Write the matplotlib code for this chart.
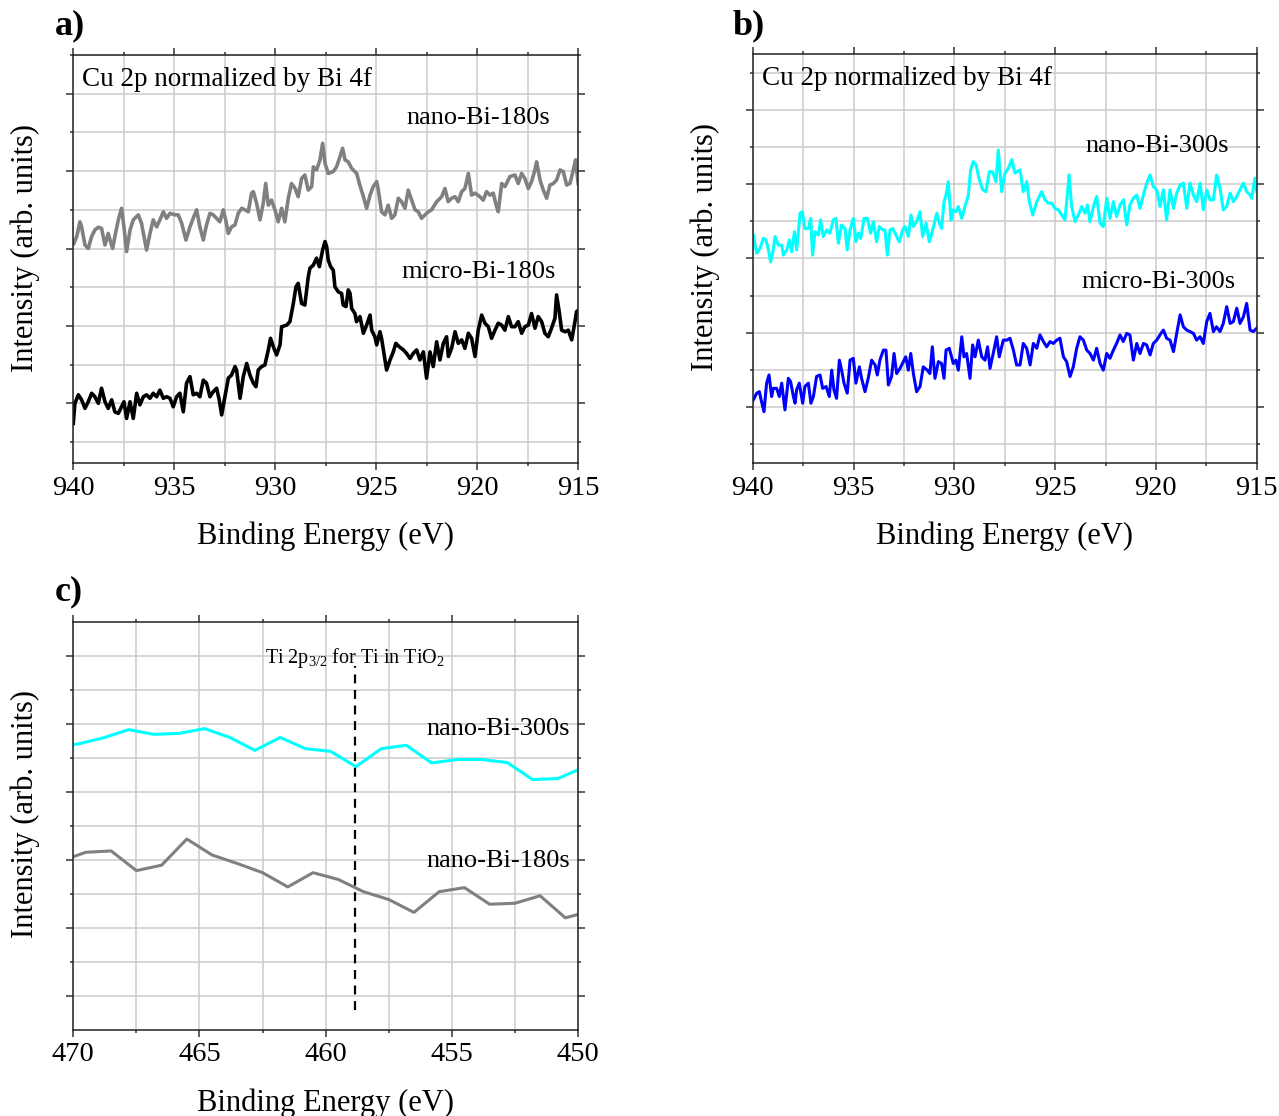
import matplotlib
matplotlib.use('Agg')
import matplotlib.pyplot as plt
from matplotlib.ticker import MultipleLocator, FixedLocator
import numpy as np

plt.rcParams['font.family'] = 'Liberation Serif'
plt.rcParams['mathtext.fontset'] = 'custom'
plt.rcParams['mathtext.rm'] = 'Liberation Serif'
plt.rcParams['mathtext.default'] = 'regular'

# ---- a) Cu 2p, 180 s samples (binding energy eV, intensity arb.) ----
nano180 = [
    (939.97, 6.13), (939.83, 6.31), (939.67, 6.69), (939.59, 6.56), (939.42, 6.09), (939.26, 6.00),
    (939.09, 6.31), (938.93, 6.48), (938.76, 6.55), (938.60, 6.52), (938.43, 6.09), (938.27, 6.39),
    (938.18, 6.22), (938.05, 6.00), (937.94, 6.31), (937.77, 6.74), (937.61, 7.04), (937.49, 6.56),
    (937.36, 5.92), (937.19, 6.48), (937.03, 6.74), (936.78, 6.87), (936.62, 6.65), (936.37, 5.96),
    (936.20, 6.39), (936.04, 6.74), (935.87, 6.56), (935.71, 6.74), (935.54, 6.95), (935.38, 6.78),
    (935.21, 6.91), (934.96, 6.87), (934.80, 6.87), (934.63, 6.65), (934.42, 6.22), (934.22, 6.56),
    (934.06, 6.78), (933.89, 7.00), (933.73, 6.56), (933.56, 6.22), (933.40, 6.61), (933.23, 6.91),
    (933.07, 6.87), (932.90, 6.78), (932.74, 6.69), (932.57, 7.00), (932.45, 6.74), (932.32, 6.39),
    (932.16, 6.56), (931.99, 6.61), (931.83, 6.91), (931.66, 7.04), (931.50, 7.00), (931.33, 6.95),
    (931.17, 7.43), (931.08, 7.47), (930.92, 7.17), (930.75, 6.74), (930.59, 7.17), (930.47, 7.68),
    (930.34, 7.12), (930.18, 7.25), (930.01, 7.00), (929.85, 6.69), (929.68, 7.04), (929.52, 6.69),
    (929.35, 7.30), (929.19, 7.68), (929.02, 7.56), (928.86, 7.34), (928.69, 7.81), (928.53, 7.90),
    (928.36, 7.51), (928.19, 7.60), (928.11, 8.11), (927.95, 8.03), (927.78, 8.29), (927.65, 8.72),
    (927.53, 8.20), (927.37, 7.94), (927.12, 7.99), (926.96, 8.11), (926.79, 8.37), (926.66, 8.59),
    (926.54, 8.29), (926.38, 8.24), (926.21, 8.07), (925.96, 7.94), (925.83, 7.68), (925.63, 7.34),
    (925.47, 7.04), (925.30, 7.38), (925.14, 7.60), (924.97, 7.73), (924.89, 7.51), (924.73, 6.95),
    (924.56, 6.87), (924.40, 7.12), (924.23, 6.78), (924.07, 6.87), (923.90, 7.30), (923.74, 7.21),
    (923.57, 7.04), (923.41, 7.51), (923.24, 7.25), (923.07, 7.00), (922.91, 6.95), (922.75, 6.78),
    (922.58, 6.87), (922.41, 6.95), (922.25, 7.00), (922.00, 7.21), (921.75, 7.34), (921.59, 7.55),
    (921.43, 7.21), (921.26, 7.30), (921.09, 7.34), (920.93, 7.21), (920.76, 7.47), (920.60, 7.55),
    (920.43, 7.94), (920.27, 7.38), (920.10, 7.43), (919.86, 7.34), (919.69, 7.25), (919.53, 7.47),
    (919.36, 7.38), (919.20, 7.43), (919.03, 7.08), (918.95, 6.95), (918.78, 7.68), (918.62, 7.60),
    (918.37, 7.86), (918.12, 7.90), (917.96, 7.68), (917.79, 7.94), (917.63, 7.81), (917.46, 7.55),
    (917.30, 7.73), (917.13, 8.03), (917.05, 8.24), (916.88, 7.77), (916.72, 7.51), (916.55, 7.30),
    (916.39, 7.64), (916.22, 7.68), (916.06, 7.77), (915.89, 8.03), (915.73, 7.99), (915.56, 7.64),
    (915.40, 7.68), (915.23, 8.03), (915.12, 8.29), (914.99, 7.68),
]

micro180 = [
    (940.00, 1.48), (939.92, 2.00), (939.75, 2.22), (939.59, 2.09), (939.42, 1.87), (939.26, 2.04),
    (939.09, 2.26), (938.93, 2.17), (938.76, 2.00), (938.60, 2.39), (938.43, 2.04), (938.27, 1.87),
    (938.10, 2.09), (937.94, 1.78), (937.77, 1.74), (937.61, 1.91), (937.49, 2.04), (937.36, 1.61),
    (937.19, 2.04), (937.03, 1.61), (936.86, 2.26), (936.70, 1.96), (936.53, 2.17), (936.37, 2.22),
    (936.20, 2.13), (936.04, 2.26), (935.87, 2.17), (935.71, 2.34), (935.54, 2.13), (935.38, 2.17),
    (935.21, 2.13), (935.05, 1.91), (934.88, 2.17), (934.72, 2.26), (934.55, 1.78), (934.39, 2.52),
    (934.22, 2.69), (934.06, 2.22), (933.89, 2.26), (933.73, 2.17), (933.56, 2.60), (933.40, 2.52),
    (933.23, 2.17), (933.07, 2.30), (932.90, 2.39), (932.77, 2.09), (932.65, 1.70), (932.49, 2.17),
    (932.32, 2.65), (932.16, 2.73), (931.99, 2.95), (931.91, 2.86), (931.74, 2.13), (931.58, 2.69),
    (931.41, 3.03), (931.25, 2.73), (931.08, 2.52), (930.95, 2.43), (930.84, 2.86), (930.67, 2.95),
    (930.51, 2.99), (930.34, 3.38), (930.23, 3.68), (930.09, 3.46), (929.93, 3.25), (929.76, 3.51),
    (929.68, 3.98), (929.43, 4.02), (929.27, 4.11), (929.10, 4.58), (928.97, 5.01), (928.86, 5.10),
    (928.69, 4.58), (928.53, 4.54), (928.36, 5.27), (928.28, 5.49), (928.11, 5.57), (927.95, 5.75),
    (927.81, 5.53), (927.65, 5.96), (927.53, 6.18), (927.45, 6.05), (927.37, 5.70), (927.25, 5.53),
    (927.12, 5.44), (927.04, 5.01), (926.87, 4.88), (926.71, 4.84), (926.63, 4.54), (926.49, 4.50),
    (926.38, 4.93), (926.29, 4.84), (926.21, 4.45), (926.05, 4.32), (925.97, 4.11), (925.80, 4.24),
    (925.63, 3.81), (925.47, 4.02), (925.30, 4.28), (925.22, 3.89), (925.06, 3.72), (924.97, 3.51),
    (924.81, 3.85), (924.73, 3.68), (924.61, 3.29), (924.48, 2.86), (924.31, 3.12), (924.15, 3.33),
    (924.02, 3.55), (923.85, 3.46), (923.65, 3.38), (923.49, 3.29), (923.32, 3.16), (923.16, 3.29),
    (922.99, 3.38), (922.83, 3.12), (922.66, 3.33), (922.50, 2.65), (922.33, 3.33), (922.17, 2.95),
    (922.00, 3.59), (921.84, 3.12), (921.67, 3.55), (921.51, 3.72), (921.42, 3.21), (921.26, 3.42),
    (921.09, 3.85), (920.93, 3.55), (920.76, 3.64), (920.60, 3.42), (920.43, 3.81), (920.27, 3.68),
    (920.10, 3.21), (919.94, 3.89), (919.77, 4.28), (919.61, 4.07), (919.44, 3.98), (919.28, 3.68),
    (919.11, 3.89), (918.95, 4.07), (918.78, 4.02), (918.62, 3.89), (918.45, 4.24), (918.29, 3.98),
    (918.12, 3.98), (917.96, 4.11), (917.79, 3.81), (917.63, 3.98), (917.46, 4.02), (917.30, 4.32),
    (917.13, 3.94), (916.97, 4.24), (916.80, 4.11), (916.64, 3.81), (916.47, 3.72), (916.31, 3.94),
    (916.14, 4.20), (916.06, 4.80), (915.93, 4.37), (915.81, 3.89), (915.64, 3.85), (915.48, 3.89),
    (915.31, 3.64), (915.15, 4.11), (915.07, 4.37), (914.97, 4.41),
]

# ---- b) Cu 2p, 300 s samples ----
nano300 = [
    (939.97, 6.63), (939.80, 6.14), (939.64, 6.27), (939.47, 6.54), (939.34, 6.50), (939.22, 6.23),
    (939.11, 5.91), (938.98, 6.23), (938.89, 6.59), (938.73, 6.36), (938.56, 6.36), (938.48, 6.09),
    (938.31, 6.23), (938.18, 6.50), (938.07, 6.18), (937.93, 6.72), (937.82, 6.23), (937.65, 7.22),
    (937.54, 7.26), (937.41, 6.81), (937.24, 6.81), (937.12, 7.08), (937.03, 6.09), (936.91, 6.72),
    (936.74, 6.63), (936.63, 7.04), (936.50, 6.59), (936.33, 6.77), (936.17, 6.68), (936.00, 7.04),
    (935.87, 7.08), (935.75, 6.41), (935.59, 6.90), (935.42, 6.81), (935.31, 6.23), (935.17, 6.77),
    (935.01, 7.08), (934.88, 6.45), (934.76, 6.68), (934.64, 6.54), (934.48, 7.08), (934.31, 7.08),
    (934.15, 6.68), (934.02, 6.99), (933.85, 6.45), (933.72, 6.86), (933.55, 6.77), (933.44, 6.77),
    (933.32, 6.09), (933.19, 6.77), (933.06, 6.81), (932.89, 6.63), (932.73, 6.45), (932.56, 6.77),
    (932.45, 6.86), (932.28, 6.59), (932.15, 7.17), (932.03, 6.86), (931.87, 6.99), (931.70, 7.26),
    (931.57, 6.59), (931.40, 6.95), (931.24, 6.45), (931.07, 6.77), (930.87, 7.22), (930.74, 6.95),
    (930.63, 6.81), (930.51, 7.53), (930.41, 7.71), (930.30, 8.07), (930.16, 7.04), (930.05, 7.31),
    (929.92, 7.26), (929.80, 7.40), (929.63, 7.08), (929.47, 7.40), (929.30, 7.71), (929.19, 8.39),
    (929.06, 8.61), (928.92, 8.52), (928.76, 8.12), (928.59, 7.85), (928.43, 7.80), (928.26, 8.34),
    (928.10, 8.34), (927.93, 8.07), (927.82, 8.92), (927.65, 7.80), (927.49, 8.30), (927.32, 8.43),
    (927.15, 8.66), (926.99, 8.30), (926.74, 8.39), (926.58, 7.80), (926.41, 8.07), (926.28, 7.53),
    (926.11, 7.17), (925.91, 7.53), (925.67, 7.80), (925.50, 7.58), (925.34, 7.49), (925.17, 7.49),
    (925.01, 7.35), (924.84, 7.31), (924.67, 7.17), (924.51, 7.04), (924.31, 8.25), (924.18, 7.40),
    (924.01, 6.99), (923.85, 7.17), (923.68, 7.40), (923.52, 7.22), (923.40, 7.44), (923.27, 6.99),
    (923.10, 7.40), (922.94, 7.67), (922.77, 6.95), (922.61, 6.86), (922.44, 7.62), (922.28, 7.08),
    (922.11, 7.53), (921.95, 7.13), (921.78, 7.44), (921.61, 7.58), (921.45, 6.90), (921.29, 7.44),
    (921.12, 7.62), (920.95, 7.71), (920.79, 7.35), (920.62, 7.71), (920.46, 8.03), (920.29, 8.25),
    (920.13, 7.94), (919.96, 7.85), (919.80, 7.40), (919.63, 7.85), (919.47, 7.04), (919.30, 7.85),
    (919.13, 7.35), (918.97, 7.76), (918.80, 7.98), (918.64, 8.03), (918.47, 7.35), (918.31, 8.03),
    (918.14, 7.71), (917.98, 7.53), (917.81, 8.03), (917.65, 7.31), (917.48, 7.85), (917.32, 7.58),
    (917.15, 7.58), (916.99, 8.25), (916.82, 7.89), (916.66, 7.31), (916.49, 7.40), (916.32, 7.76),
    (916.16, 7.53), (915.99, 7.67), (915.83, 7.85), (915.66, 8.03), (915.50, 7.80), (915.33, 7.71),
    (915.25, 7.62), (915.09, 8.16), (915.00, 7.80),
]

micro300 = [
    (939.97, 2.19), (939.80, 2.37), (939.67, 2.41), (939.56, 2.14), (939.44, 1.87), (939.31, 2.64),
    (939.19, 2.86), (939.06, 2.28), (938.98, 2.50), (938.81, 2.50), (938.68, 2.28), (938.56, 2.64),
    (938.40, 1.92), (938.23, 2.77), (938.12, 2.68), (937.98, 2.28), (937.90, 2.10), (937.82, 2.46),
    (937.69, 2.64), (937.52, 2.10), (937.41, 2.55), (937.24, 2.64), (937.11, 2.10), (936.99, 2.28),
    (936.83, 2.82), (936.66, 2.86), (936.53, 2.50), (936.36, 2.55), (936.20, 2.28), (936.08, 2.99),
    (935.97, 2.46), (935.84, 2.23), (935.70, 3.26), (935.59, 2.99), (935.47, 2.64), (935.31, 2.37),
    (935.17, 3.26), (935.01, 3.31), (934.88, 2.64), (934.71, 3.08), (934.60, 2.77), (934.43, 2.41),
    (934.27, 2.77), (934.10, 3.26), (933.93, 3.13), (933.82, 2.86), (933.69, 3.26), (933.52, 3.53),
    (933.39, 3.53), (933.27, 2.59), (933.11, 2.82), (932.99, 3.44), (932.86, 2.90), (932.69, 3.04),
    (932.53, 3.22), (932.41, 3.35), (932.28, 2.99), (932.16, 3.44), (932.03, 2.90), (931.87, 2.41),
    (931.70, 2.55), (931.54, 3.08), (931.34, 2.99), (931.21, 2.90), (931.09, 3.62), (930.96, 2.77),
    (930.79, 3.22), (930.63, 3.17), (930.51, 2.77), (930.41, 3.53), (930.25, 3.58), (930.05, 3.17),
    (929.92, 3.26), (929.80, 2.99), (929.63, 3.89), (929.52, 3.35), (929.39, 3.44), (929.22, 2.77),
    (929.09, 3.67), (928.97, 3.35), (928.81, 3.80), (928.64, 3.35), (928.48, 3.26), (928.35, 3.62),
    (928.23, 3.04), (928.07, 3.44), (927.90, 3.89), (927.77, 3.35), (927.57, 3.80), (927.40, 3.80),
    (927.24, 3.85), (927.07, 3.53), (926.91, 3.13), (926.74, 3.13), (926.58, 3.71), (926.41, 3.58),
    (926.24, 3.13), (926.08, 3.71), (925.91, 3.58), (925.75, 3.94), (925.58, 3.76), (925.42, 3.62),
    (925.25, 3.76), (925.09, 3.71), (924.92, 3.80), (924.76, 3.85), (924.59, 3.35), (924.43, 3.22),
    (924.26, 2.82), (924.10, 3.08), (923.93, 3.58), (923.77, 3.89), (923.60, 3.80), (923.43, 3.53),
    (923.27, 3.44), (923.10, 3.26), (922.94, 3.58), (922.77, 3.17), (922.61, 2.99), (922.44, 3.44),
    (922.28, 3.31), (922.11, 3.53), (921.95, 3.71), (921.78, 3.94), (921.62, 3.76), (921.45, 3.98),
    (921.29, 3.94), (921.12, 3.26), (920.95, 3.71), (920.79, 3.44), (920.62, 3.71), (920.46, 3.67),
    (920.29, 3.40), (920.13, 3.71), (919.96, 3.80), (919.80, 3.94), (919.63, 4.07), (919.47, 3.85),
    (919.30, 3.80), (919.13, 3.49), (918.97, 3.98), (918.80, 4.48), (918.64, 4.16), (918.47, 4.07),
    (918.31, 4.03), (918.14, 3.98), (917.98, 3.80), (917.81, 3.89), (917.65, 3.71), (917.48, 4.30),
    (917.32, 4.52), (917.15, 4.03), (917.00, 4.16), (916.82, 4.03), (916.66, 4.25), (916.49, 4.70),
    (916.32, 4.25), (916.16, 4.30), (915.99, 4.66), (915.83, 4.25), (915.66, 4.43), (915.50, 4.79),
    (915.33, 4.07), (915.17, 4.03), (915.00, 4.12),
]

# ---- c) Ti 2p region ----
ti300_e = [470.8, 469.8, 468.8, 467.8, 466.8, 465.8, 464.8, 463.8, 462.8, 461.8, 460.8,
           459.8, 458.8, 457.8, 456.8, 455.8, 454.8, 453.8, 452.8, 451.8, 450.8, 449.8]
ti300_i = [8.30, 8.42, 8.60, 8.84, 8.70, 8.73, 8.87, 8.61, 8.23, 8.61, 8.28,
           8.20, 7.75, 8.28, 8.38, 7.86, 7.96, 7.96, 7.87, 7.37, 7.40, 7.72]
ti180_e = [470.5, 469.5, 468.5, 467.5, 466.5, 465.5, 464.5, 463.5, 462.5, 461.5, 460.5,
           459.5, 458.5, 457.5, 456.5, 455.5, 454.5, 453.5, 452.5, 451.5, 450.5, 449.5]
ti180_i = [4.97, 5.23, 5.27, 4.69, 4.85, 5.62, 5.15, 4.90, 4.63, 4.21, 4.63,
           4.43, 4.07, 3.84, 3.46, 4.07, 4.19, 3.70, 3.73, 3.95, 3.30, 3.50]
ti_ref = 458.85  # Ti 2p3/2 for Ti in TiO2

GRAY = '#808080'
CYAN = '#00ffff'
BLUE = '#0000ff'


def style(ax, xlim, ylim, ymajor, yminor, ylab_x, ylab_y):
    ax.set_xlim(*xlim)
    ax.set_ylim(*ylim)
    ax.xaxis.set_major_locator(MultipleLocator(5))
    ax.xaxis.set_minor_locator(MultipleLocator(2.5))
    ax.yaxis.set_major_locator(FixedLocator(ymajor))
    ax.yaxis.set_minor_locator(FixedLocator(yminor))
    ax.grid(True, which='both', color='#cccccc', lw=1.1)
    ax.set_axisbelow(True)
    ax.tick_params(which='both', direction='out', top=True, right=True,
                   labelleft=False, labelsize=20.5, width=1.1, color='#333333', pad=4)
    ax.tick_params(which='major', length=5)
    ax.tick_params(which='minor', length=2.5)
    for s in ax.spines.values():
        s.set_linewidth(1.1)
        s.set_color('#222222')
    ax.set_xlabel('Binding Energy (eV)', fontsize=22, labelpad=15)
    ax.set_ylabel('Intensity (arb. units)', fontsize=22)
    ax.yaxis.set_label_coords(ylab_x, ylab_y)


fig = plt.figure(figsize=(12.79, 11.16), dpi=100)

# a)
axa = fig.add_axes([0.0573, 0.5851, 0.3946, 0.3656])
e, i = np.array(nano180).T
axa.plot(e, i, color=GRAY, lw=2.6)
e, i = np.array(micro180).T
axa.plot(e, i, color='black', lw=2.6)
style(axa, (940, 915), (0.457, 11.0), [2, 4, 6, 8, 10], [1, 3, 5, 7, 9, 11], -0.066, 0.528)
axa.text(0.017, 0.94, 'Cu 2p normalized by Bi 4f', transform=axa.transAxes,
         fontsize=19.5, va='center', ha='left')
axa.text(916.39, 9.37, 'nano-Bi-180s', fontsize=19, ha='right', va='center')
axa.text(916.09, 5.39, 'micro-Bi-180s', fontsize=19, ha='right', va='center')

# b)
axb = fig.add_axes([0.5885, 0.5851, 0.3941, 0.3662])
e, i = np.array(nano300).T
axb.plot(e, i, color=CYAN, lw=2.2)
e, i = np.array(micro300).T
axb.plot(e, i, color=BLUE, lw=2.2)
style(axb, (940, 915), (0.488, 11.5), [2, 4, 6, 8, 10], [1, 3, 5, 7, 9, 11], -0.065, 0.528)
axb.text(0.018, 0.94, 'Cu 2p normalized by Bi 4f', transform=axb.transAxes,
         fontsize=19.5, va='center', ha='left')
axb.text(916.37, 9.03, 'nano-Bi-300s', fontsize=19, ha='right', va='center')
axb.text(916.07, 5.37, 'micro-Bi-300s', fontsize=19, ha='right', va='center')

# c)
axc = fig.add_axes([0.0573, 0.0771, 0.3946, 0.3653])
axc.plot(ti300_e, ti300_i, color=CYAN, lw=2.2)
axc.plot(ti180_e, ti180_i, color=GRAY, lw=2.2)
axc.vlines(ti_ref, 0.6, 10.7, colors='black', linestyles=(0, (4, 3)), lw=1.6)
style(axc, (470, 450), (0, 12), [1, 3, 5, 7, 9, 11], [2, 4, 6, 8, 10], -0.066, 0.529)
axc.text(ti_ref, 10.95, 'Ti 2p$_{3/2}$ for Ti in TiO$_2$', fontsize=14.5,
         ha='center', va='center')
axc.text(450.32, 8.85, 'nano-Bi-300s', fontsize=19, ha='right', va='center')
axc.text(450.32, 4.97, 'nano-Bi-180s', fontsize=19, ha='right', va='center')

fig.text(55 / 1279, 1 - 26 / 1116, 'a)', fontsize=26, fontweight='bold', va='center')
fig.text(733 / 1279, 1 - 26 / 1116, 'b)', fontsize=26, fontweight='bold', va='center')
fig.text(55 / 1279, 1 - 592 / 1116, 'c)', fontsize=26, fontweight='bold', va='center')

fig.savefig('out.png', dpi=100)
